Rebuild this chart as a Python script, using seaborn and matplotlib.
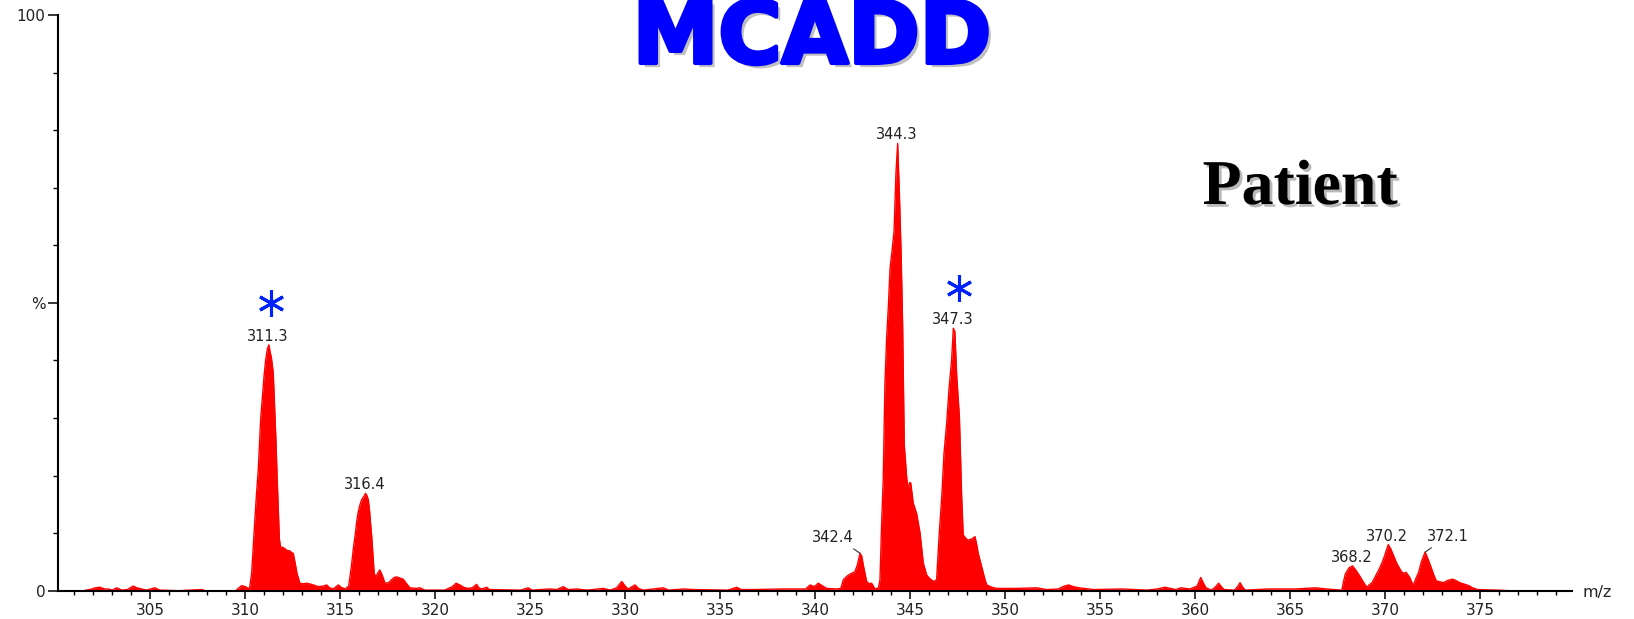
import matplotlib
matplotlib.use("Agg")
import matplotlib.pyplot as plt
import seaborn as sns
import pandas as pd
from matplotlib import patheffects as pe
from matplotlib.markers import MarkerStyle

# ---------------- data ----------------
mz = [300.15, 301.5, 301.93, 302.1, 302.36, 302.6, 302.8, 303.0, 303.24, 303.5, 303.8,
      304.11, 304.3, 304.55, 304.8, 305.25, 305.5, 306.5, 307.71, 307.9, 309.5, 309.82,
      310.08, 310.2, 310.25, 310.34, 310.43, 310.52, 310.6, 310.69, 310.82, 310.92, 311.0,
      311.08, 311.17, 311.25, 311.31, 311.38, 311.48, 311.55, 311.62, 311.68, 311.74, 311.8,
      311.86, 312.0, 312.09, 312.2, 312.36, 312.45, 312.53, 312.62, 312.73, 312.88, 313.05,
      313.24, 313.5, 313.85, 314.1, 314.29, 314.45, 314.64, 314.9, 315.05, 315.25, 315.45,
      315.52, 315.6, 315.7, 315.78, 315.87, 315.95, 316.05, 316.13, 316.25, 316.34, 316.41,
      316.48, 316.55, 316.6, 316.66, 316.71, 316.79, 316.88, 317.0, 317.09, 317.2, 317.36,
      317.55, 317.7, 317.85, 317.97, 318.15, 318.32, 318.5, 318.67, 319.0, 319.2, 319.46,
      320.5, 320.9, 321.1, 321.3, 321.5, 321.7, 321.95, 322.18, 322.3, 322.45, 322.71,
      322.85, 324.5, 324.9, 325.1, 326.04, 326.4, 326.74, 327.0, 327.45, 328.0, 328.85,
      329.2, 329.55, 329.82, 330.0, 330.16, 330.52, 330.7, 330.95, 332.0, 332.3, 333.06,
      333.58, 335.4, 335.87, 336.1, 336.74, 338.32, 339.5, 339.73, 339.95, 340.16, 340.4,
      340.6, 341.13, 341.35, 341.48, 341.6, 341.74, 341.9, 342.09, 342.22, 342.36, 342.45,
      342.53, 342.62, 342.71, 342.85, 342.97, 343.15, 343.33, 343.41, 343.5, 343.58, 343.67,
      343.76, 343.85, 343.94, 344.03, 344.15, 344.25, 344.34, 344.43, 344.52, 344.6, 344.69,
      344.82, 344.9, 344.97, 345.03, 345.16, 345.34, 345.52, 345.69, 345.87, 346.0, 346.22,
      346.39, 346.53, 346.66, 346.78, 346.92, 347.04, 347.18, 347.27, 347.35, 347.45, 347.59,
      347.71, 347.79, 347.95, 348.06, 348.25, 348.41, 348.5, 348.58, 348.76, 348.94, 349.03,
      349.3, 349.55, 350.6, 351.66, 352.18, 352.8, 353.1, 353.34, 353.6, 353.9, 354.65,
      356.15, 357.46, 358.0, 358.41, 358.97, 359.25, 359.73, 360.1, 360.29, 360.45, 360.57,
      360.85, 361.05, 361.23, 361.4, 361.52, 362.07, 362.25, 362.36, 362.5, 362.64, 363.86,
      364.8, 365.27, 366.31, 367.25, 367.72, 367.8, 367.9, 368.1, 368.28, 368.45, 368.65,
      368.85, 369.03, 369.15, 369.31, 369.5, 369.69, 369.85, 369.97, 370.16, 370.3, 370.44,
      370.6, 370.82, 370.95, 371.1, 371.29, 371.47, 371.6, 371.76, 371.9, 372.1, 372.25,
      372.41, 372.55, 372.69, 373.07, 373.3, 373.54, 373.7, 373.92, 374.1, 374.39, 374.6,
      374.86, 375.89, 376.5, 379.83]

intensity = [0.0, 0.0, 0.3, 0.5, 0.6, 0.3, 0.3, 0.1, 0.5, 0.1, 0.2,
             0.8, 0.5, 0.3, 0.1, 0.5, 0.1, 0.0, 0.2, 0.0, 0.0, 0.9,
             0.6, 0.3, 0.8, 3.0, 8.0, 12.8, 17.0, 21.0, 30.0, 34.3, 37.5,
             40.1, 42.0, 42.7, 41.5, 40.5, 37.8, 32.0, 26.2, 20.0, 14.6, 9.0,
             7.6, 7.5, 7.3, 7.0, 6.9, 6.6, 6.5, 5.0, 3.0, 1.3, 1.2,
             1.3, 1.1, 0.7, 0.8, 1.0, 0.5, 0.3, 1.0, 0.6, 0.3, 0.8,
             2.5, 4.5, 7.5, 9.4, 12.0, 13.7, 15.0, 15.8, 16.4, 16.9, 16.5,
             15.8, 13.8, 11.7, 9.5, 7.1, 3.0, 2.4, 3.2, 3.6, 2.8, 1.3,
             1.4, 1.9, 2.3, 2.4, 2.2, 2.0, 1.2, 0.5, 0.4, 0.5, 0.1,
             0.1, 0.7, 1.3, 1.0, 0.6, 0.4, 0.5, 1.1, 0.5, 0.3, 0.6,
             0.2, 0.1, 0.5, 0.1, 0.3, 0.2, 0.7, 0.2, 0.3, 0.1, 0.4,
             0.1, 0.5, 1.6, 0.8, 0.3, 1.0, 0.4, 0.1, 0.5, 0.1, 0.3,
             0.2, 0.1, 0.6, 0.2, 0.2, 0.3, 0.3, 1.0, 0.7, 1.3, 0.8,
             0.4, 0.3, 0.4, 1.9, 2.3, 2.7, 3.0, 3.3, 4.5, 6.5, 6.0,
             4.5, 3.0, 1.6, 1.2, 1.3, 0.3, 0.5, 1.9, 12.0, 19.2, 36.0,
             43.9, 49.3, 56.0, 58.6, 62.4, 72.5, 77.7, 69.1, 58.9, 46.5, 25.3,
             19.5, 17.5, 18.8, 18.7, 15.2, 13.4, 10.0, 4.8, 2.7, 2.2, 1.6,
             1.9, 10.0, 16.3, 23.9, 29.1, 34.9, 40.1, 45.6, 45.0, 37.2, 30.2,
             16.3, 9.7, 9.0, 8.8, 9.0, 9.4, 8.0, 6.5, 4.2, 1.9, 1.0,
             0.6, 0.4, 0.4, 0.5, 0.2, 0.3, 0.8, 1.0, 0.7, 0.5, 0.2,
             0.3, 0.1, 0.3, 0.6, 0.2, 0.5, 0.3, 0.8, 2.3, 1.2, 0.5,
             0.1, 0.6, 1.3, 0.6, 0.2, 0.1, 0.8, 1.4, 0.6, 0.1, 0.3,
             0.3, 0.3, 0.5, 0.2, 0.1, 1.5, 2.9, 4.0, 4.3, 3.6, 2.6,
             1.5, 0.6, 1.0, 1.4, 2.6, 3.8, 5.0, 6.1, 8.0, 7.2, 6.1,
             4.8, 3.5, 3.0, 3.2, 2.3, 0.9, 2.0, 3.2, 5.0, 6.7, 5.5,
             4.1, 2.8, 1.7, 1.4, 1.8, 2.0, 1.8, 1.4, 1.2, 0.9, 0.5,
             0.2, 0.1, 0.0, 0.0]

label_text = ["311.3", "316.4", "342.4", "344.3", "347.3", "368.2", "370.2", "372.1"]
label_mz = [311.25, 316.34, 342.36, 344.34, 347.27, 368.28, 370.16, 372.10]
label_int = [42.7, 16.9, 6.5, 77.7, 45.6, 4.3, 8.0, 6.7]

star_mz = [311.37, 347.58]
star_int = [50.0, 52.5]

x_major = list(range(305, 380, 5))
x_minor = list(range(301, 380))
y_major = [0, 50, 100]
y_major_labels = ["0", "%", "100"]
y_minor = [10, 20, 30, 40, 60, 70, 80, 90]

# ---------------- figure ----------------
sns.set_theme(style="white")
plt.rcParams["font.family"] = ["DejaVu Sans"]

W, H = 1634, 619
fig = plt.figure(figsize=(W / 100, H / 100), dpi=100)
ax = fig.add_axes([58 / W, 1 - 590.7 / H, (1572 - 58) / W, (590.7 - 15) / H])

df = pd.DataFrame({"mz": mz, "intensity": intensity})
sns.lineplot(data=df, x="mz", y="intensity", color="#ff0000", lw=1.0,
             estimator=None, sort=False, ax=ax)
ax.fill_between(df["mz"], df["intensity"], color="#ff0000", lw=0)

ax.set_xlim(300.15, 379.83)
ax.set_ylim(0, 100)
ax.set_xlabel("")
ax.set_ylabel("")
for s in ["top", "right"]:
    ax.spines[s].set_visible(False)
for s in ["left", "bottom"]:
    ax.spines[s].set_color("black")
    ax.spines[s].set_linewidth(1.5)

ax.set_xticks(x_major)
ax.set_xticks(x_minor, minor=True)
ax.set_yticks(y_major)
ax.set_yticklabels(y_major_labels)
ax.set_yticks(y_minor, minor=True)
ax.tick_params(axis="x", which="major", direction="out", length=6, width=1.1,
               color="black", labelsize=11, labelcolor="#222222", pad=3, bottom=True)
ax.tick_params(axis="x", which="minor", direction="out", length=3, width=1.0,
               color="black", bottom=True)
ax.tick_params(axis="y", which="major", direction="out", length=7, width=1.1,
               color="black", labelsize=11, labelcolor="#222222", pad=2, left=True)
ax.tick_params(axis="y", which="minor", direction="out", length=3.5, width=1.0,
               color="black", left=True)

# peak labels
offsets = {"342.4": (-27, 16), "372.1": (23, 16)}
relpos = {"342.4": (0.85, 0.0), "372.1": (0.24, 0.0)}
for t, x, y in zip(label_text, label_mz, label_int):
    dx, dy = offsets.get(t, (-1, 8.5))
    kw = {}
    if t in offsets:
        kw["arrowprops"] = dict(arrowstyle="-", color="#333333", lw=0.8,
                                shrinkA=1, shrinkB=0, relpos=relpos[t])
    ax.annotate(t, xy=(x, y), xytext=(dx * 0.72, dy * 0.72), textcoords="offset points",
                ha="center", va="center", fontsize=10.5, color="#222222", **kw)

# blue asterisks
ax.plot(star_mz, star_int, linestyle="none",
        marker=MarkerStyle((6, 2, 0), capstyle="round"),
        markersize=19, markeredgewidth=2.2, color="#0022ff", clip_on=False)

# axis unit
fig.text(1583 / W, 1 - 592 / H, "m/z", ha="left", va="center", fontsize=11.5, color="#222222")

# title (kept fully inside the canvas)
fig.text(812 / W, 1 - 63 / H, "MCADD", ha="center", va="baseline", fontsize=62,
         fontweight="bold", color="#0000ff",
         path_effects=[pe.SimplePatchShadow(offset=(3, -3), shadow_rgbFace="#c0c0c0", alpha=1.0),
                       pe.Stroke(linewidth=3, foreground="#0000ff", joinstyle="round"),
                       pe.Normal()])

fig.text(1300 / W, 1 - 204 / H, "Patient", ha="center", va="baseline", fontsize=46,
         fontweight="bold", family=["Liberation Serif", "DejaVu Serif"], color="black",
         path_effects=[pe.SimplePatchShadow(offset=(2, -2), shadow_rgbFace="#b8b8b8", alpha=1.0),
                       pe.Normal()])

fig.savefig("out.png", dpi=100)
